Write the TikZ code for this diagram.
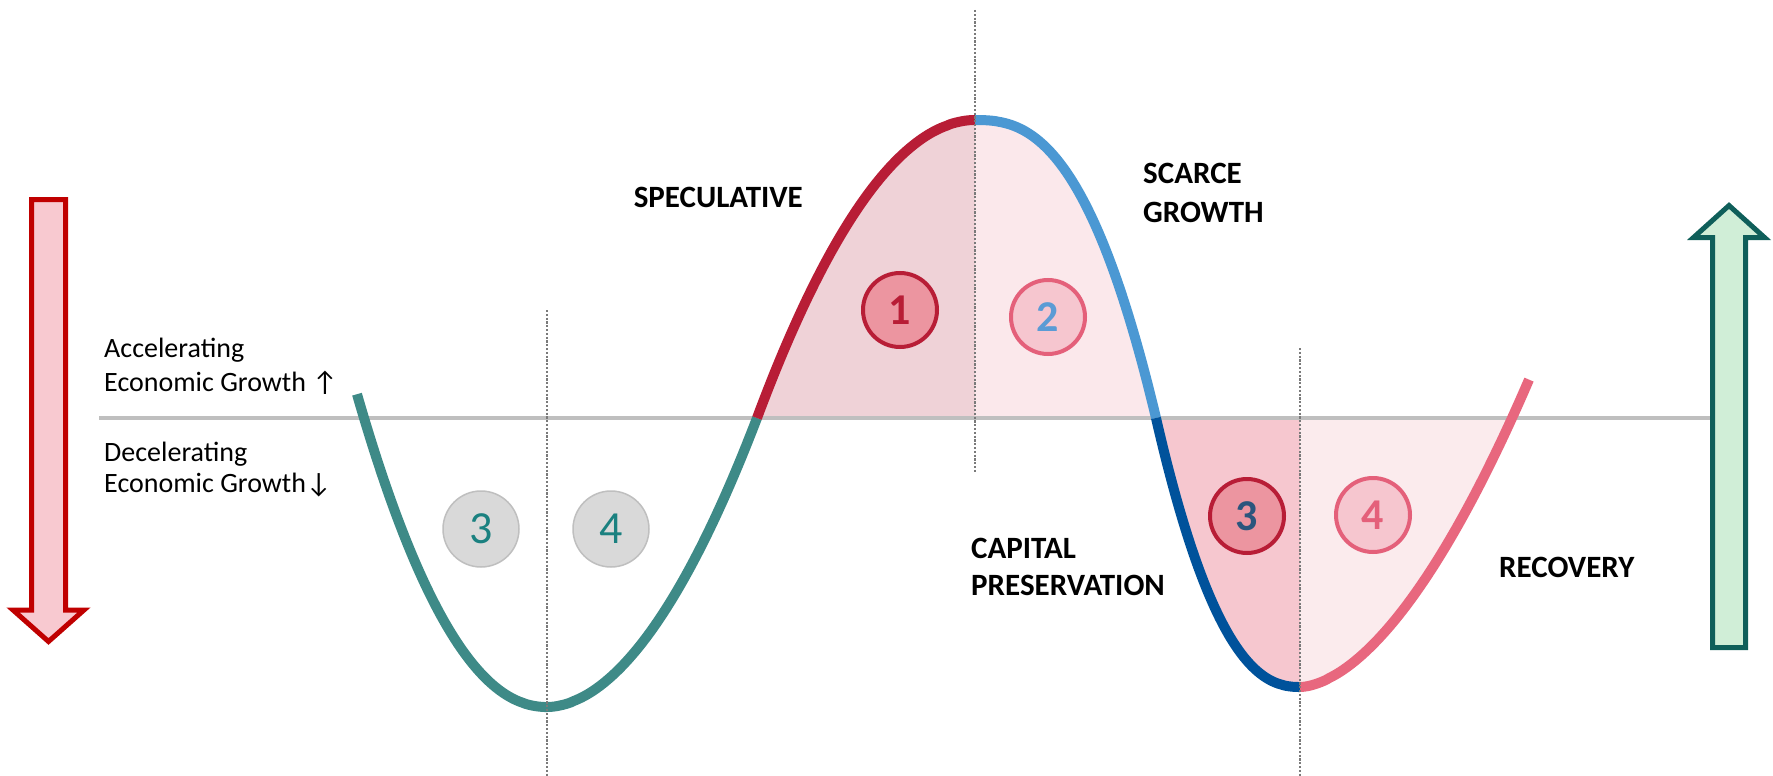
\documentclass[tikz,border=0pt]{standalone}
\usepackage{fontspec}
\setmainfont{Carlito}
\definecolor{tealc}{HTML}{3E8A87}
\definecolor{redc}{HTML}{B81D36}
\definecolor{bluel}{HTML}{4B98D3}
\definecolor{blued}{HTML}{00529B}
\definecolor{pinkc}{HTML}{E8677E}
\definecolor{hillL}{HTML}{EFD2D7}
\definecolor{hillR}{HTML}{FBE8EB}
\definecolor{troughL}{HTML}{F6C7CF}
\definecolor{troughR}{HTML}{FBEBED}
\definecolor{axisgray}{HTML}{BFBFBF}
\definecolor{dotgray}{HTML}{7A7A7A}
\definecolor{cfillA}{HTML}{EC95A0}
\definecolor{cfillB}{HTML}{F6C6CF}
\definecolor{cringB}{HTML}{E4607A}
\definecolor{digblue}{HTML}{5B9BD5}
\definecolor{digdark}{HTML}{2B557D}
\definecolor{greyfill}{HTML}{D9D9D9}
\definecolor{greyring}{HTML}{BFBFBF}
\definecolor{digteal}{HTML}{1B8180}
\definecolor{downline}{HTML}{C00000}
\definecolor{downfill}{HTML}{F8C9D0}
\definecolor{upline}{HTML}{0F5F5A}
\definecolor{upfill}{HTML}{D0EED7}
\begin{document}
\begin{tikzpicture}[x=1pt,y=-1pt,
  curve/.style={line width=10pt},
  guide/.style={dotgray,line width=2.2pt,dash pattern=on 2.2pt off 1.6pt},
  ringA/.style={circle,minimum size=74pt,inner sep=0pt,fill=cfillA,draw=redc,line width=4pt,
    font=\fontsize{44}{44}\selectfont\bfseries},
  ringB/.style={circle,minimum size=74pt,inner sep=0pt,fill=cfillB,draw=cringB,line width=4pt,
    font=\fontsize{44}{44}\selectfont\bfseries},
  ringG/.style={circle,minimum size=76pt,inner sep=0pt,fill=greyfill,draw=greyring,line width=1.5pt,
    text=digteal,font=\fontsize{46}{46}\selectfont},
  sidelab/.style={inner sep=0pt,align=left,anchor=base west},
  phase/.style={inner sep=0pt,align=left},
  bigarrow/.style={line width=5pt,miter limit=10}]
\useasboundingbox (0,0) rectangle (1773,776);

% shaded phases under the curve
\fill[hillL] (757,418) -- plot[domain=757:975,samples=80] (\x,{418-298*(1-(abs((\x-975)/218)+0.00001)^1.96)}) -- (975,418) -- cycle;
\fill[hillR] (975,418) -- plot[domain=975:1156,samples=80] (\x,{418-298*(1-(abs((\x-975)/181)+0.00001)^2.55)}) -- cycle;
\fill[troughL] (1156,418) -- plot[domain=1156:1300,samples=80] (\x,{418+269*(1-(abs((\x-1300)/144)+0.00001)^2.33)}) -- (1300,418) -- cycle;
\fill[troughR] (1300,418) -- plot[domain=1300:1512,samples=80] (\x,{418+269*(1-(abs((\x-1300)/212)+0.00001)^1.73)}) -- cycle;

% zero-growth axis
\draw[axisgray,line width=4pt] (99,418) -- (1712,418);

% the cycle curve, one colour per quarter
\draw[curve,tealc] plot[domain=357:547,samples=80] (\x,{418+289*(1-(abs((\x-547)/183)+0.00001)^2.11)});
\draw[curve,tealc] plot[domain=547:757,samples=80] (\x,{418+289*(1-(abs((\x-547)/210)+0.00001)^1.9)});
\draw[curve,redc] plot[domain=757:975,samples=80] (\x,{418-298*(1-(abs((\x-975)/218)+0.00001)^1.96)});
\draw[curve,bluel] plot[domain=975:1156,samples=80] (\x,{418-298*(1-(abs((\x-975)/181)+0.00001)^2.55)});
\draw[curve,blued] plot[domain=1156:1300,samples=80] (\x,{418+269*(1-(abs((\x-1300)/144)+0.00001)^2.33)});
\draw[curve,pinkc] plot[domain=1300:1529,samples=80] (\x,{418+269*(1-(abs((\x-1300)/212)+0.00001)^1.73)});

% turning-point guides
\draw[guide] (547,310) -- (547,776);
\draw[guide] (975,10) -- (975,473);
\draw[guide] (1300,348) -- (1300,776);

% phase markers
\node[ringG] (g3) at (481,529) {3};
\node[ringG] (g4) at (611,529) {4};
\node[ringA,text=redc] (p1) at (900,310) {1};
\node[ringB,text=digblue] (p2) at (1048,317) {2};
\node[ringA,text=digdark] (p3) at (1247,516) {3};
\node[ringB,text=cringB] (p4) at (1373,515) {4};

% labels (a multi-line node sits on the baseline of its last line)
\node[sidelab,font=\fontsize{28}{34}\selectfont] (acc) at (104,391) {Accelerating\\Economic Growth ↑};
\node[sidelab,font=\fontsize{28}{31}\selectfont] (dec) at (104,492) {Decelerating\\Economic Growth↓};
\node[phase,anchor=base east,font=\fontsize{31}{31}\selectfont\bfseries] (spec) at (803,207) {SPECULATIVE};
\node[phase,anchor=base west,font=\fontsize{31}{39}\selectfont\bfseries] (scarce) at (1143,222) {SCARCE\\GROWTH};
\node[phase,anchor=base west,font=\fontsize{31}{37}\selectfont\bfseries] (cap) at (971,595) {CAPITAL\\PRESERVATION};
\node[phase,anchor=base west,font=\fontsize{31}{31}\selectfont\bfseries] (rec) at (1499,577) {RECOVERY};

% side block arrows
\draw[bigarrow,draw=downline,fill=downfill]
  (31.5,199.5) -- (65.5,199.5) -- (65.5,610) -- (84,610) -- (48.5,641.5)
  -- (13,610) -- (31.5,610) -- cycle;
\draw[bigarrow,draw=upline,fill=upfill]
  (1712.5,647.5) -- (1745.5,647.5) -- (1745.5,237.5) -- (1764.5,237.5) -- (1729,205.5)
  -- (1693.5,237.5) -- (1712.5,237.5) -- cycle;
\end{tikzpicture}
\end{document}
